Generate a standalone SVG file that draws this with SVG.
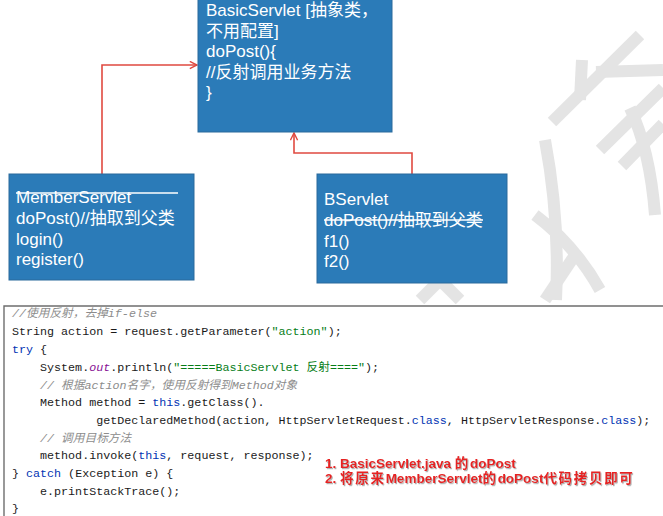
<svg xmlns="http://www.w3.org/2000/svg" width="663" height="516" viewBox="0 0 663 516">
<style>
.box{fill:#2b7bb8;stroke:#2a6a9c;stroke-width:1}
.bt{font-family:"Liberation Sans","Noto Sans CJK SC",sans-serif;font-size:17px;fill:#ffffff}
.conn{fill:none;stroke:#e04a40;stroke-width:1.6}
.wm{fill:none;stroke:#e4e4e4;stroke-width:12;stroke-linecap:butt}
.code{font-family:"Liberation Mono","Noto Sans CJK SC",monospace;font-size:11.7px;fill:#1a1a1a}
.kw{fill:#0033b3}
.str{fill:#067d17}
.cm{fill:#8c8c8c;font-style:italic}
.st{fill:#871094;font-style:italic}
.note{font-family:"Liberation Sans","Noto Sans CJK SC",sans-serif;font-size:13.5px;font-weight:bold;fill:#e62222}
.cjk{letter-spacing:1.7px}
</style>
<defs>
<marker id="arr" viewBox="0 0 10 10" refX="9" refY="5" markerWidth="9" markerHeight="9" markerUnits="userSpaceOnUse" orient="auto">
<path d="M1,1 L9,5 L1,9" fill="none" stroke="#e04a40" stroke-width="1.6"/>
</marker>
<filter id="sh" x="-5%" y="-30%" width="110%" height="160%">
<feDropShadow dx="1" dy="1.2" stdDeviation="0.6" flood-color="#9a9a9a" flood-opacity="0.8"/>
</filter>
</defs>
<rect width="663" height="516" fill="#ffffff"/>

<g id="watermark">
<path class="wm" d="M640,35 L552,122"/>
<path class="wm" d="M582,60 L580,100"/>
<path class="wm" d="M596,72 L663,70"/>
<path class="wm" d="M600,150 L663,88"/>
<path class="wm" d="M622,166 L663,124"/>
<path class="wm" d="M630,108 Q650,150 655,215"/>
<path class="wm" d="M545,140 Q560,220 556,300"/>
<path class="wm" d="M535,215 Q575,245 600,290"/>
<path class="wm" d="M575,255 L545,300"/>
<path class="wm" d="M400,240 L460,300" stroke-width="9"/>
<path class="wm" d="M470,250 L420,300" stroke-width="9"/>
</g>

<g id="connectors">
<path class="conn" d="M102,174 V65 H197" marker-end="url(#arr)"/>
<path class="conn" d="M412,174 V153 H294 V133" marker-end="url(#arr)"/>
</g>

<g id="basicservlet">
<rect class="box" x="198" y="-1" width="194" height="133"/>
<text class="bt" x="206" y="16">BasicServlet [抽象类，</text>
<text class="bt" x="206" y="37">不用配置]</text>
<text class="bt" x="206" y="57">doPost(){</text>
<text class="bt" x="206" y="78">//反射调用业务方法</text>
<text class="bt" x="206" y="98">}</text>
</g>

<g id="memberservlet">
<rect class="box" x="9" y="174" width="185" height="106"/>
<text class="bt" x="16" y="203">MemberServlet</text>
<line x1="16" y1="193" x2="178" y2="193" stroke="#ffffff" stroke-width="1.3"/>
<text class="bt" x="16" y="224">doPost()//抽取到父类</text>
<text class="bt" x="16" y="245">login()</text>
<text class="bt" x="16" y="265">register()</text>
</g>

<g id="bservlet">
<rect class="box" x="317" y="174" width="190" height="109"/>
<text class="bt" x="324" y="205">BServlet</text>
<text class="bt" x="324" y="226">doPost()//抽取到父类</text>
<line x1="324" y1="220" x2="483" y2="220" stroke="#ffffff" stroke-width="1.3"/>
<text class="bt" x="324" y="247">f1()</text>
<text class="bt" x="324" y="267">f2()</text>
</g>

<g id="code">
<rect x="4" y="306" width="662" height="214" fill="#ffffff"/>
<path d="M4,516 V306 H663" fill="none" stroke="#6e6e6e" stroke-width="1.4"/>
<text class="code" x="12" y="317"><tspan class="cm">//使用反射，去掉if-else</tspan></text>
<text class="code" x="12" y="335" xml:space="preserve">String action = request.getParameter(<tspan class="str">"action"</tspan>);</text>
<text class="code" x="12" y="353" xml:space="preserve"><tspan class="kw">try</tspan> {</text>
<text class="code" x="12" y="371" xml:space="preserve">    System.<tspan class="st">out</tspan>.println(<tspan class="str">"=====BasicServlet 反射===="</tspan>);</text>
<text class="code" x="12" y="389" xml:space="preserve">    <tspan class="cm">// 根据action名字，使用反射得到Method对象</tspan></text>
<text class="code" x="12" y="406" xml:space="preserve">    Method method = <tspan class="kw">this</tspan>.getClass().</text>
<text class="code" x="12" y="424" xml:space="preserve">            getDeclaredMethod(action, HttpServletRequest.<tspan class="kw">class</tspan>, HttpServletResponse.<tspan class="kw">class</tspan>);</text>
<text class="code" x="12" y="442" xml:space="preserve">    <tspan class="cm">// 调用目标方法</tspan></text>
<text class="code" x="12" y="459" xml:space="preserve">    method.invoke(<tspan class="kw">this</tspan>, request, response);</text>
<text class="code" x="12" y="477" xml:space="preserve">} <tspan class="kw">catch</tspan> (Exception e) {</text>
<text class="code" x="12" y="495" xml:space="preserve">    e.printStackTrace();</text>
<text class="code" x="12" y="512">}</text>
</g>

<g id="note" filter="url(#sh)">
<text class="note" x="325" y="468">1. BasicServlet.java <tspan class="cjk">的</tspan>doPost</text>
<text class="note" x="325" y="483">2. <tspan class="cjk">将原来</tspan>MemberServlet<tspan class="cjk">的</tspan>doPost<tspan class="cjk">代码拷贝即可</tspan></text>
</g>
</svg>
